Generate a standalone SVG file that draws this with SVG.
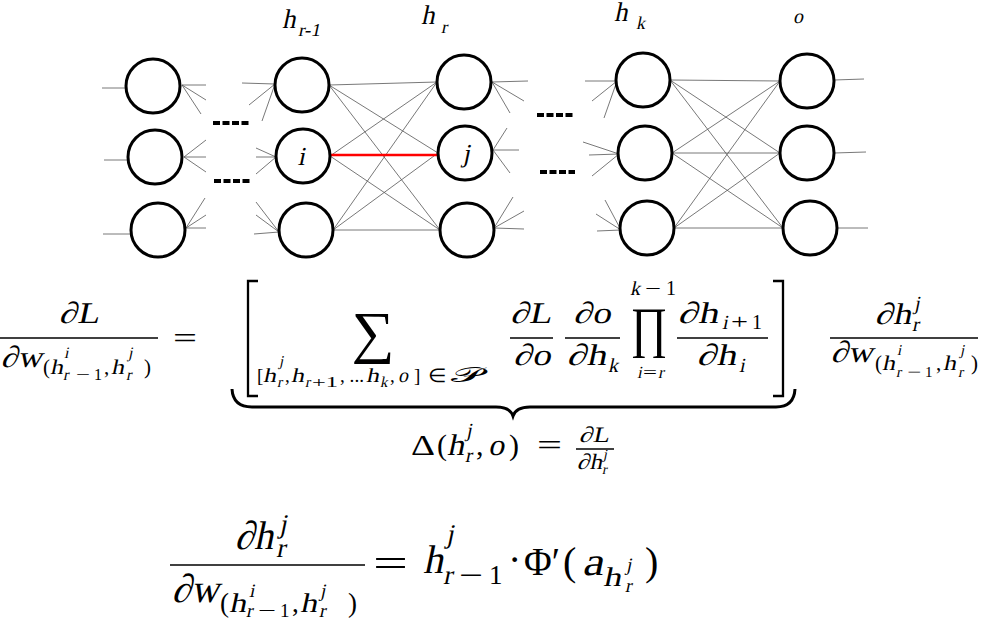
<svg xmlns="http://www.w3.org/2000/svg" width="989" height="620" viewBox="0 0 989 620" font-family="'Liberation Serif', serif">
<style>
.node{fill:#fff;stroke:#000;stroke-width:3}
.w{stroke:#555;stroke-width:0.8;fill:none}
.dash{stroke:#000;stroke-width:4;stroke-dasharray:7 2.5}
.bar{stroke:#000;stroke-width:1.3}
.barb{stroke:#000;stroke-width:1.7}
text{font-family:'Liberation Serif', serif;fill:#000}
</style>
<rect width="989" height="620" fill="#fff"/>
<g id="connectors">
<path class="w" d="M102,88H126 M104,160H128 M103,234H131"/>
<path class="w" d="M182,85L206,85 M182,85L206,100 M182,85L201,114 M184,157L206,140 M184,157L206,157 M184,157L206,172 M186,228L205,198 M186,228L206,215 M186,228L206,228"/>
<path class="w" d="M242,83L275,84 M249,105L275,84 M262,121L275,84 M256,148L276,157 M256,157L276,157 M256,174L276,157 M256,202L279,232 M256,215L279,232 M254,234L279,232"/>
<path class="w" d="M329,85L437,82 M329,85L438,153 M329,85L440,230 M330,156L437,82 M330,156L440,230 M333,230L437,82 M333,230L438,153 M333,230L440,230"/>
<line x1="330" y1="155" x2="438" y2="155" stroke="#f00" stroke-width="2.5"/>
<path class="w" d="M492,82L528,81 M492,82L524,101 M492,82L510,113 M493,150L507,128 M493,150L519,150 M493,150L510,173 M494,228L513,197 M494,228L524,211 M494,228L524,229"/>
<path class="w" d="M585,81L617,81 M592,101L617,81 M604,118L617,81 M583,142L619,154 M589,155L619,154 M592,176L619,154 M605,200L621,230 M596,214L621,230 M597,231L621,230"/>
<path class="w" d="M670,80L780,81 M670,80L780,153 M670,80L783,228 M672,153L780,81 M672,153L780,153 M672,153L783,228 M674,228L780,81 M674,228L780,153 M674,228L783,228"/>
<path class="w" d="M834,80L864,79 M834,153L866,152 M837,228L868,228"/>
<line class="dash" x1="213" y1="123" x2="250" y2="123"/>
<line class="dash" x1="214" y1="181" x2="250" y2="181"/>
<line class="dash" x1="537" y1="115" x2="575" y2="115"/>
<line class="dash" x1="540" y1="172" x2="575" y2="172"/>
</g>
<g id="layer1">
<g id="n11"><circle class="node" cx="153" cy="86" r="27"/></g>
<g id="n12"><circle class="node" cx="155" cy="157" r="27"/></g>
<g id="n13"><circle class="node" cx="158" cy="230" r="27"/></g>
</g>
<g id="layer2">
<g id="n21"><circle class="node" cx="302" cy="85" r="27"/></g>
<g id="n22"><circle class="node" cx="303" cy="156" r="27"/><text transform="translate(301,165) skewX(-12)" font-size="26" text-anchor="middle">i</text></g>
<g id="n23"><circle class="node" cx="306" cy="230" r="27"/></g>
<text transform="translate(282,28) skewX(-12)" font-size="27">h</text>
<text transform="translate(298,36) skewX(-12)" font-size="18" textLength="22" lengthAdjust="spacingAndGlyphs">r-1</text>
</g>
<g id="layer3">
<g id="n31"><circle class="node" cx="464" cy="82" r="27"/></g>
<g id="n32"><circle class="node" cx="465" cy="153" r="27"/><text transform="translate(466,162) skewX(-12)" font-size="26" text-anchor="middle">j</text></g>
<g id="n33"><circle class="node" cx="467" cy="230" r="27"/></g>
<text transform="translate(421,24) skewX(-12)" font-size="27">h</text>
<text transform="translate(441,33) skewX(-12)" font-size="18">r</text>
</g>
<g id="layer4">
<g id="n41"><circle class="node" cx="643" cy="80" r="27"/></g>
<g id="n42"><circle class="node" cx="645" cy="153" r="27"/></g>
<g id="n43"><circle class="node" cx="647" cy="228" r="27"/></g>
<text transform="translate(614,21) skewX(-12)" font-size="27">h</text>
<text transform="translate(636,29) skewX(-12)" font-size="18">k</text>
</g>
<g id="layer5">
<g id="n51"><circle class="node" cx="807" cy="81" r="27"/></g>
<g id="n52"><circle class="node" cx="807" cy="153" r="27"/></g>
<g id="n53"><circle class="node" cx="810" cy="228" r="27"/></g>
<text transform="translate(793,23) skewX(-12)" font-size="20">o</text>
</g>

<g id="equation1">
<text transform="translate(79,323) skewX(-12)" font-size="30" text-anchor="middle" textLength="40" lengthAdjust="spacingAndGlyphs">∂L</text>
<line class="bar" x1="0" y1="338" x2="158" y2="338"/>
<text transform="translate(1,367) skewX(-12)" font-size="30" textLength="41" lengthAdjust="spacingAndGlyphs">∂w</text>
<text x="43" y="374" font-size="21">(</text>
<text transform="translate(50,374) skewX(-12)" font-size="21" textLength="13" lengthAdjust="spacingAndGlyphs">h</text>
<text transform="translate(64,358) skewX(-12)" font-size="16">i</text>
<text transform="translate(63,380) skewX(-12)" font-size="16">r</text>
<text x="76" y="380" font-size="16" textLength="14" lengthAdjust="spacingAndGlyphs">−</text>
<text x="94" y="380" font-size="16">1</text>
<text x="104" y="374" font-size="21">,</text>
<text transform="translate(111,374) skewX(-12)" font-size="21" textLength="13" lengthAdjust="spacingAndGlyphs">h</text>
<text transform="translate(128,358) skewX(-12)" font-size="16">j</text>
<text transform="translate(126,380) skewX(-12)" font-size="16">r</text>
<text x="144" y="374" font-size="21">)</text>
<text x="173" y="348" font-size="30" textLength="24" lengthAdjust="spacingAndGlyphs">=</text>
<path d="M258,281H248V396H258 M773,281H783V396H773" fill="none" stroke="#000" stroke-width="2.3"/>
<text x="373" y="352" font-size="58" text-anchor="middle" textLength="43" lengthAdjust="spacingAndGlyphs">∑</text>
<text x="257" y="382" font-size="19">[</text>
<text transform="translate(263,382) skewX(-12)" font-size="20" textLength="13" lengthAdjust="spacingAndGlyphs">h</text>
<text transform="translate(279,366) skewX(-12)" font-size="15">j</text>
<text transform="translate(277,387) skewX(-12)" font-size="15">r</text>
<text x="285" y="382" font-size="19">,</text>
<text transform="translate(291,382) skewX(-12)" font-size="20" textLength="13" lengthAdjust="spacingAndGlyphs">h</text>
<text transform="translate(305,387) skewX(-12)" font-size="15">r</text>
<text x="312" y="387" font-size="15" textLength="26" lengthAdjust="spacingAndGlyphs">+1</text>
<text x="340" y="382" font-size="19" textLength="24" lengthAdjust="spacingAndGlyphs">, ...</text>
<text transform="translate(366,382) skewX(-12)" font-size="20" textLength="13" lengthAdjust="spacingAndGlyphs">h</text>
<text transform="translate(380,387) skewX(-12)" font-size="15">k</text>
<text x="390" y="382" font-size="19">,</text>
<text transform="translate(398,382) skewX(-12)" font-size="20">o</text>
<text x="414" y="382" font-size="19">]</text>
<text x="428" y="382" font-size="19" textLength="19" lengthAdjust="spacingAndGlyphs">∈</text>
<text x="451" y="382" font-size="20" textLength="31" lengthAdjust="spacingAndGlyphs">𝒫</text>
<text transform="translate(531,323) skewX(-12)" font-size="30" text-anchor="middle" textLength="41" lengthAdjust="spacingAndGlyphs">∂L</text>
<line class="bar" x1="510" y1="338" x2="553" y2="338"/>
<text transform="translate(532,365) skewX(-12)" font-size="30" text-anchor="middle" textLength="37" lengthAdjust="spacingAndGlyphs">∂o</text>
<text transform="translate(592,323) skewX(-12)" font-size="30" text-anchor="middle" textLength="37" lengthAdjust="spacingAndGlyphs">∂o</text>
<line class="bar" x1="565" y1="338" x2="620" y2="338"/>
<text transform="translate(567,365) skewX(-12)" font-size="30" textLength="39" lengthAdjust="spacingAndGlyphs">∂h</text>
<text transform="translate(608,372) skewX(-12)" font-size="20">k</text>
<text x="649" y="346" font-size="56" text-anchor="middle" textLength="37" lengthAdjust="spacingAndGlyphs">∏</text>
<text transform="translate(630,295) skewX(-12)" font-size="20">k</text>
<text x="645" y="295" font-size="20" textLength="16" lengthAdjust="spacingAndGlyphs">−</text>
<text x="666" y="295" font-size="20">1</text>
<text transform="translate(637,378) skewX(-12)" font-size="17">i</text>
<text x="643" y="378" font-size="17" textLength="14" lengthAdjust="spacingAndGlyphs">=</text>
<text transform="translate(658,378) skewX(-12)" font-size="17">r</text>
<text transform="translate(678,323) skewX(-12)" font-size="30" textLength="40" lengthAdjust="spacingAndGlyphs">∂h</text>
<text transform="translate(722,329) skewX(-12)" font-size="20">i</text>
<text x="731" y="329" font-size="20" textLength="17" lengthAdjust="spacingAndGlyphs">+</text>
<text x="752" y="329" font-size="20">1</text>
<line class="bar" x1="677" y1="338" x2="768" y2="338"/>
<text transform="translate(697,365) skewX(-12)" font-size="30" textLength="39" lengthAdjust="spacingAndGlyphs">∂h</text>
<text transform="translate(739,372) skewX(-12)" font-size="20">i</text>
<text transform="translate(875,324) skewX(-12)" font-size="30" textLength="36" lengthAdjust="spacingAndGlyphs">∂h</text>
<text transform="translate(914,310) skewX(-12)" font-size="20">j</text>
<text transform="translate(912,331) skewX(-12)" font-size="20">r</text>
<line class="bar" x1="830" y1="338" x2="978" y2="338"/>
<text transform="translate(831,362) skewX(-12)" font-size="30" textLength="42" lengthAdjust="spacingAndGlyphs">∂w</text>
<text x="875" y="370" font-size="21">(</text>
<text transform="translate(882,370) skewX(-12)" font-size="21" textLength="13" lengthAdjust="spacingAndGlyphs">h</text>
<text transform="translate(897,355) skewX(-12)" font-size="15">i</text>
<text transform="translate(896,377) skewX(-12)" font-size="15">r</text>
<text x="907" y="377" font-size="15" textLength="14" lengthAdjust="spacingAndGlyphs">−</text>
<text x="925" y="377" font-size="15">1</text>
<text x="936" y="370" font-size="21">,</text>
<text transform="translate(943,370) skewX(-12)" font-size="21" textLength="13" lengthAdjust="spacingAndGlyphs">h</text>
<text transform="translate(960,355) skewX(-12)" font-size="15">j</text>
<text transform="translate(958,377) skewX(-12)" font-size="15">r</text>
<text x="971" y="370" font-size="21">)</text>
<path d="M232,389 Q233,407 252,407 H496 Q510,407 513,416 Q516,407 530,407 H776 Q794,407 795,389" fill="none" stroke="#000" stroke-width="3"/>
<text x="411" y="455" font-size="30" textLength="24" lengthAdjust="spacingAndGlyphs">Δ</text>
<text x="437" y="455" font-size="30">(</text>
<text transform="translate(447,455) skewX(-12)" font-size="30" textLength="17" lengthAdjust="spacingAndGlyphs">h</text>
<text transform="translate(466,437) skewX(-12)" font-size="20">j</text>
<text transform="translate(465,462) skewX(-12)" font-size="20">r</text>
<text x="476" y="455" font-size="30">,</text>
<text transform="translate(488,455) skewX(-12)" font-size="30" textLength="16" lengthAdjust="spacingAndGlyphs">o</text>
<text x="509" y="455" font-size="30">)</text>
<text x="537" y="455" font-size="30" textLength="25" lengthAdjust="spacingAndGlyphs">=</text>
<text transform="translate(594,442) skewX(-12)" font-size="22" text-anchor="middle" textLength="30" lengthAdjust="spacingAndGlyphs">∂L</text>
<line class="bar" x1="576" y1="449" x2="614" y2="449"/>
<text transform="translate(577,469) skewX(-12)" font-size="22" textLength="25" lengthAdjust="spacingAndGlyphs">∂h</text>
<text transform="translate(603,459) skewX(-12)" font-size="14">j</text>
<text transform="translate(602,474) skewX(-12)" font-size="14">r</text>
</g>

<g id="equation2">
<text transform="translate(235,549) skewX(-12)" font-size="40" textLength="38" lengthAdjust="spacingAndGlyphs">∂h</text>
<text transform="translate(279,533) skewX(-12)" font-size="27">j</text>
<text transform="translate(276,557) skewX(-12)" font-size="27">r</text>
<line class="barb" x1="170" y1="565" x2="365" y2="565"/>
<text transform="translate(172,602) skewX(-12)" font-size="40" textLength="47" lengthAdjust="spacingAndGlyphs">∂w</text>
<text x="220" y="612" font-size="27">(</text>
<text transform="translate(229,612) skewX(-12)" font-size="27" textLength="17" lengthAdjust="spacingAndGlyphs">h</text>
<text transform="translate(249,597) skewX(-12)" font-size="19">i</text>
<text transform="translate(246,617) skewX(-12)" font-size="19">r</text>
<text x="258" y="617" font-size="19" textLength="18" lengthAdjust="spacingAndGlyphs">−</text>
<text x="280" y="617" font-size="19">1</text>
<text x="292" y="612" font-size="27">,</text>
<text transform="translate(300,612) skewX(-12)" font-size="27" textLength="17" lengthAdjust="spacingAndGlyphs">h</text>
<text transform="translate(320,597) skewX(-12)" font-size="19">j</text>
<text transform="translate(319,617) skewX(-12)" font-size="19">r</text>
<text x="348" y="612" font-size="27">)</text>
<text x="373" y="577" font-size="40" textLength="35" lengthAdjust="spacingAndGlyphs">=</text>
<text transform="translate(423,573) skewX(-12)" font-size="40" textLength="20" lengthAdjust="spacingAndGlyphs">h</text>
<text transform="translate(446,543) skewX(-12)" font-size="27">j</text>
<text transform="translate(443,584) skewX(-12)" font-size="27">r</text>
<text x="459" y="584" font-size="27" textLength="24" lengthAdjust="spacingAndGlyphs">−</text>
<text x="489" y="584" font-size="27">1</text>
<text x="508" y="573" font-size="40">·</text>
<text x="524" y="575" font-size="40" textLength="36" lengthAdjust="spacingAndGlyphs">Φ′</text>
<text x="563" y="575" font-size="40">(</text>
<text transform="translate(582,575) skewX(-12)" font-size="40" textLength="21" lengthAdjust="spacingAndGlyphs">a</text>
<text transform="translate(603,586) skewX(-12)" font-size="27" textLength="18" lengthAdjust="spacingAndGlyphs">h</text>
<text transform="translate(626,571) skewX(-12)" font-size="19">j</text>
<text transform="translate(625,592) skewX(-12)" font-size="19">r</text>
<text x="645" y="575" font-size="40">)</text>
</g>
</svg>
